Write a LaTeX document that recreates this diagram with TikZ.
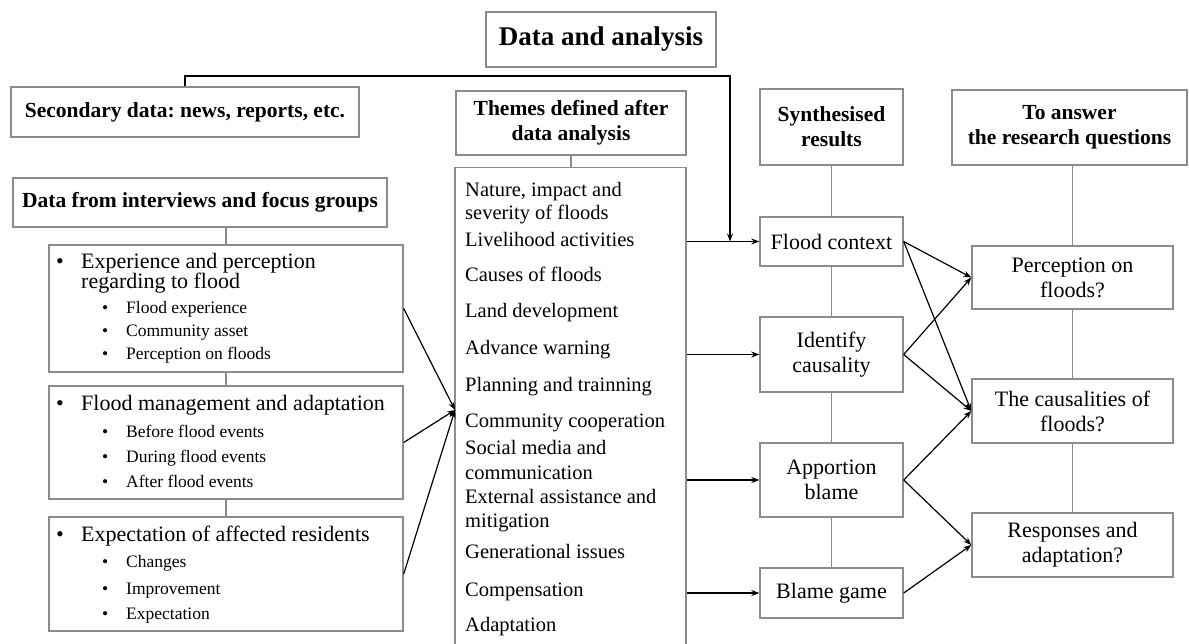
\documentclass[tikz,border=0pt]{standalone}
\usepackage{fontspec}
\setmainfont{Liberation Serif}
\frenchspacing
\usetikzlibrary{arrows.meta,positioning}

\definecolor{boxgray}{gray}{0.55}

\tikzset{
    box/.style={draw=boxgray, line width=1.4pt, fill=white, inner sep=2pt, align=center},
    head/.style={box, font=\bfseries\fontsize{21.5}{25}\selectfont},
    res/.style={box, font=\fontsize{22}{25}\selectfont},
    link/.style={draw=boxgray, line width=1.4pt},
    arr/.style={-{Stealth[length=8pt,width=6pt]}, line width=1.2pt},
    item/.style={anchor=west, inner sep=0pt,
        font=\fontsize{20.5}{23.5}\selectfont, text height=14pt, text depth=4.5pt},
    mtxt/.style={anchor=west, inner sep=0pt,
        font=\fontsize{22}{24}\selectfont, text height=15pt, text depth=5pt},
    stxt/.style={anchor=west, inner sep=0pt,
        font=\fontsize{17.5}{20}\selectfont, text height=12pt, text depth=4pt},
}

\begin{document}
\begin{tikzpicture}[x=1pt, y=-1pt]
    \useasboundingbox (0,0) rectangle (1189,643);
    \clip (0,0) rectangle (1189,643);

    % headers
    \node[head, font=\bfseries\fontsize{27}{30}\selectfont,
        minimum width=230pt, minimum height=55pt] (title) at (601,39.5) {Data and analysis};
    \node[head, minimum width=348pt, minimum height=50pt] (sec) at (185,112)
        {Secondary data: news, reports, etc.};
    \node[head, minimum width=374pt, minimum height=49pt] (intv) at (200,202.5)
        {Data from interviews and focus groups};
    \node[head, minimum width=230pt, minimum height=64pt] (thhead) at (571,123)
        {Themes defined after\\data analysis};
    \node[head, minimum width=143pt, minimum height=76pt] (synhead) at (831.5,127)
        {Synthesised\\results};
    \node[head, minimum width=235pt, minimum height=75pt] (anshead) at (1069.5,127.5)
        {To answer\\the research questions};

    % interview boxes
    \node[box, minimum width=354pt, minimum height=127pt] (exp) at (226,308.5) {};
    \node[box, minimum width=354pt, minimum height=113pt] (mgmt) at (226,442.5) {};
    \node[box, minimum width=354pt, minimum height=114pt] (expc) at (226,574) {};

    % themes
    \node[box, minimum width=231pt, minimum height=490pt, anchor=north] (themes) at (570.5,167) {};

    % synthesised results
    \node[res, minimum width=143pt, minimum height=49pt] (ctx) at (831.5,241.5) {Flood context};
    \node[res, minimum width=143pt, minimum height=75pt] (cause) at (831.5,354.5) {Identify\\causality};
    \node[res, minimum width=143pt, minimum height=74pt] (blame) at (831.5,480) {Apportion\\blame};
    \node[res, minimum width=143pt, minimum height=50pt] (game) at (831.5,593) {Blame game};

    % research questions
    \node[res, minimum width=201pt, minimum height=63pt] (perc) at (1072.5,277.5) {Perception on\\floods?};
    \node[res, minimum width=201pt, minimum height=64pt] (caus) at (1072.5,411) {The causalities of\\floods?};
    \node[res, minimum width=201pt, minimum height=64pt] (resp) at (1072.5,545) {Responses and\\adaptation?};

    % grey links
    \draw[link] (exp.north |- intv.south) -- (exp.north);
    \draw[link] (exp.south) -- (mgmt.north);
    \draw[link] (mgmt.south) -- (expc.north);
    \draw[link] (thhead.south) -- (thhead.south |- themes.north);
    \draw[link] (synhead.south) -- (ctx.north);
    \draw[link] (ctx.south) -- (cause.north);
    \draw[link] (cause.south) -- (blame.north);
    \draw[link] (blame.south) -- (game.north);
    \draw[link] (perc.north |- anshead.south) -- (perc.north);
    \draw[link] (perc.south) -- (caus.north);
    \draw[link] (caus.south) -- (resp.north);

    % interview texts
    \node[mtxt] (mb1) at (56,263) {\textbullet};
    \node[mtxt] (mt1) at (81,263) {Experience and perception};
    \node[mtxt] (mt1b) at (81,283) {regarding to flood};
    \node[mtxt] (mb2) at (56,405) {\textbullet};
    \node[mtxt] (mt2) at (81,405) {Flood management and adaptation};
    \node[mtxt] (mb3) at (56,536) {\textbullet};
    \node[mtxt] (mt3) at (81,536) {Expectation of affected residents};
    \foreach \y/\t [count=\i] in {309/Flood experience, 332/Community asset, 355/Perception on floods,
        433/Before flood events, 458/During flood events, 483/After flood events,
        563/Changes, 590/Improvement, 615/Expectation}
    {
        \node[stxt] (sb\i) at (102,\y) {\textbullet};
        \node[stxt] (st\i) at (126,\y) {\t};
    }

    % theme list, one line each
    \foreach \y/\t [count=\i] in {192/{Nature, impact and}, 215/{severity of floods},
        241.7/{Livelihood activities}, 277/{Causes of floods}, 313/{Land development},
        350/{Advance warning}, 387/{Planning and trainning}, 423/{Community cooperation},
        450/{Social media and}, 475/{communication}, 499/{External assistance and},
        523/{mitigation}, 554/{Generational issues}, 592/{Compensation}, 627/{Adaptation}}
        \node[item] (th\i) at (465,\y) {\t};

    % arrows
    \coordinate (top) at (730,76);
    \draw[arr] (sec.north) |- (top) -- (top |- ctx.west);

    \coordinate (conv) at (455,410);
    \foreach \b in {exp,mgmt,expc}
        \draw[arr] (\b.east) -- (conv);

    \foreach \b in {ctx,cause,blame,game}
        \draw[arr] (\b.west -| themes.east) -- (\b.west);

    \draw[arr] (ctx.east) -- (perc.west);
    \draw[arr] (ctx.east) -- (caus.west);
    \draw[arr] (cause.east) -- (perc.west);
    \draw[arr] (cause.east) -- (caus.west);
    \draw[arr] (blame.east) -- (caus.west);
    \draw[arr] (blame.east) -- (resp.west);
    \draw[arr] (game.east) -- (resp.west);
\end{tikzpicture}
\end{document}
